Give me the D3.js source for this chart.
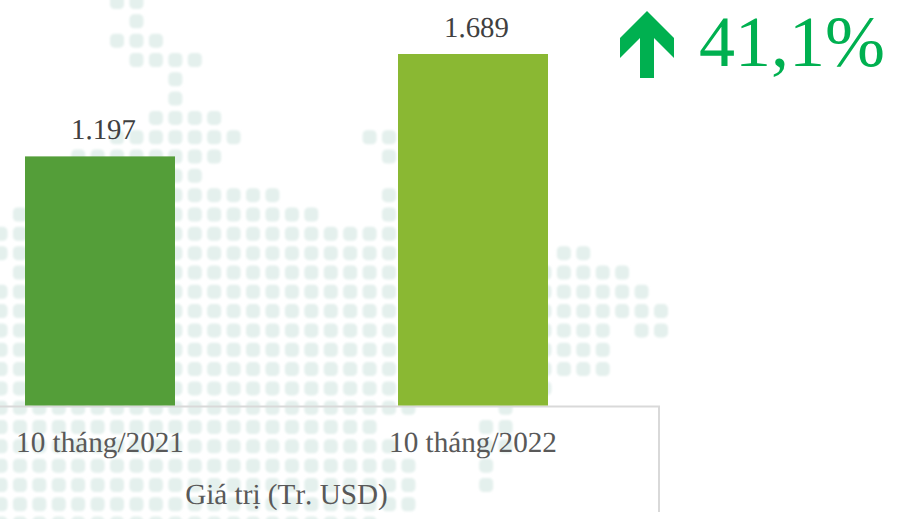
<!DOCTYPE html>
<html lang="vi">
<head>
<meta charset="utf-8">
<title>Giá trị (Tr. USD)</title>
<script src="https://d3js.org/d3.v7.min.js"></script>
<style>
html,body{margin:0;padding:0;background:#fff;overflow:hidden}
svg{display:block}
text{font-family:"Liberation Serif","Times New Roman",serif;text-rendering:geometricPrecision;font-kerning:none}
</style>
</head>
<body>
<div id="chart"></div>
<script>
const categories = ["10 tháng/2021", "10 tháng/2022"];
const values = [1197, 1689];
const valueLabels = ["1.197", "1.689"];
const barColors = ["#549e39", "#8ab833"];
const axisTitle = "Giá trị (Tr. USD)";
const changeLabel = "41,1%";

// Decorative dotted map behind the chart: for each grid row, spans of occupied grid columns.
const mapRows = [
  [[6,7]],
  [[7,7]],
  [[6,8]],
  [[7,10]],
  [[9,9]],
  [[9,9]],
  [[8,11]],
  [[6,12],[19,20]],
  [[4,11],[20,20]],
  [[9,10]],
  [[9,14],[20,20]],
  [[1,1],[9,16],[20,20]],
  [[0,20]],
  [[0,20],[29,30]],
  [[1,20],[28,32]],
  [[0,20],[28,33]],
  [[0,20],[28,34]],
  [[0,20],[28,31],[33,34]],
  [[0,20],[28,31]],
  [[0,20],[28,31]],
  [[0,20],[28,28]],
  [[0,21],[26,26]],
  [[0,19],[25,26]],
  [[0,20],[25,26]],
  [[0,21],[25,25]],
  [[0,21],[25,25]],
  [[0,21]],
  [[0,19]]
];

const width = 897, height = 519;
const svg = d3.select("#chart").append("svg").attr("width", width).attr("height", height);

const defs = svg.append("defs");
defs.append("filter").attr("id", "soft").attr("x", "-5%").attr("y", "-5%").attr("width", "110%").attr("height", "110%")
  .append("feGaussianBlur").attr("stdDeviation", 1.3);

const colX = d3.scaleLinear().domain([0, 34]).range([0.5, 661]);
const rowY = d3.scaleLinear().domain([0, 26]).range([2, 504.3]);
const dots = mapRows.flatMap((spans, r) => spans.flatMap(([a, b]) => d3.range(a, b + 1).map(c => ({c, r}))));
svg.append("g").attr("filter", "url(#soft)").selectAll("rect").data(dots).join("rect")
  .attr("x", d => colX(d.c) - 7).attr("y", d => rowY(d.r) - 7)
  .attr("width", 14).attr("height", 14).attr("rx", 4.5)
  .attr("fill", "#e4f0ed");

const step = 373, barW = 150;
const x = d3.scaleBand().domain(categories).range([-86.5, 659.5])
  .paddingInner((step - barW) / step).paddingOuter((step - barW) / step / 2);
const y = d3.scaleLinear().domain([0, 1689]).range([405.5, 54]);

svg.append("path").attr("fill", "none").attr("stroke", "#d9d9d9").attr("stroke-width", 2)
  .attr("d", d3.line()([[0, y(0) + 1], [x.range()[1] - 0.5, y(0) + 1], [x.range()[1] - 0.5, 512]]));

svg.selectAll("rect.bar").data(categories).join("rect").attr("class", "bar")
  .attr("x", d => x(d)).attr("width", x.bandwidth())
  .attr("y", (d, i) => y(values[i])).attr("height", (d, i) => y(0) - y(values[i]))
  .attr("fill", (d, i) => barColors[i]);

svg.selectAll("text.val").data(categories).join("text").attr("class", "val")
  .attr("x", d => x(d) + x.bandwidth() / 2 + 3.5).attr("y", (d, i) => y(values[i]) - 17.5)
  .attr("text-anchor", "middle").attr("font-size", 28.8).attr("fill", "#404040")
  .text((d, i) => valueLabels[i]);

const xAxis = d3.axisBottom(x).tickSize(0).tickPadding(0);
const ax = svg.append("g").attr("transform", "translate(0,425)").call(xAxis);
ax.select(".domain").remove();
ax.selectAll("text").attr("font-family", null).attr("font-size", 29.2).attr("fill", "#595959")
  .attr("dy", null).attr("y", 27);

svg.append("text").attr("x", 286.5).attr("y", 504).attr("text-anchor", "middle")
  .attr("font-size", 29.2).attr("fill", "#595959").text(axisTitle);

svg.append("path").attr("fill", "#00b050")
  .attr("d", d3.line()([[647,11],[674,38],[674,58],[654,38],[654,78],[640,78],[640,38],[620,58],[620,38]]) + "Z");
svg.append("text").attr("x", 699).attr("y", 66).attr("font-size", 72).attr("fill", "#00b050").text(changeLabel);
</script>
</body>
</html>
